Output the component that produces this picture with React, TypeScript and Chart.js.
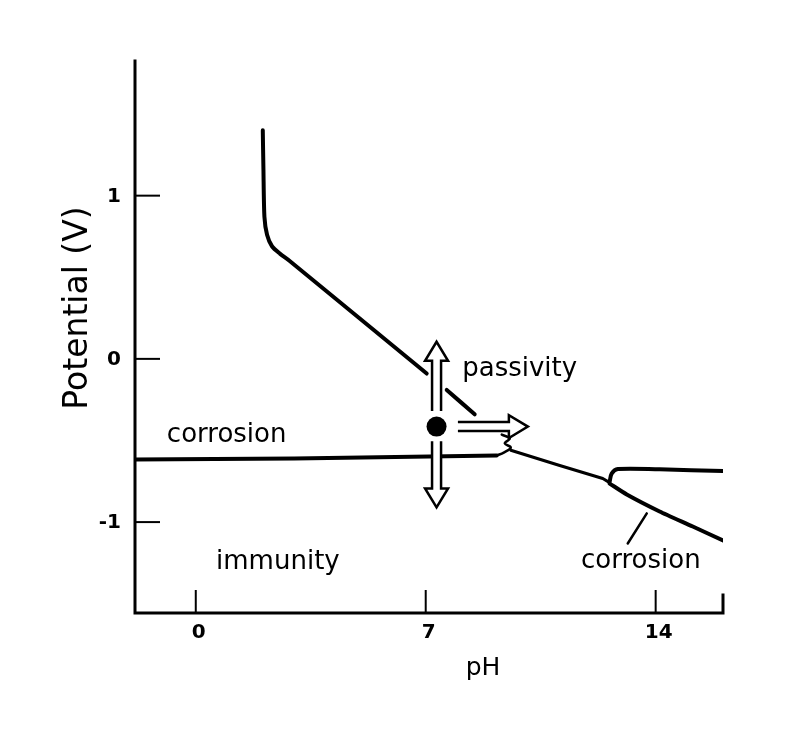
import React, { useEffect, useRef } from "react";
import { Chart, registerables } from "chart.js";

Chart.register(...registerables);

// Axis ranges and ticks
const X_MIN = -1.85;
const X_MAX = 16.05;
const Y_MIN = -1.557;
const Y_MAX = 1.825;
const X_TICKS = [0, 7, 14];
const Y_TICKS = [-1, 0, 1];
const X_TICK_LABELS = ["0", "7", "14"];
const Y_TICK_LABELS = ["-1", "0", "1"];
const X_TITLE = "pH";
const Y_TITLE = "Potential (V)";

// Curves [pH, V]; null = gap
const upperBoundary: ([number, number] | null)[] = [
  [2.04, 1.4], [2.06, 1.16], [2.09, 0.87], [2.17, 0.76], [2.32, 0.69],
  [2.56, 0.645], [2.86, 0.6], [7.03, -0.09], null, [7.64, -0.19], [8.49, -0.34],
];
const immunityBoundary: [number, number][] = [
  [-1.85, -0.617], [3.0, -0.61], [9.16, -0.592],
];
const junctionSquiggle: [number, number][] = [
  [9.163, -0.592], [9.376, -0.574], [9.589, -0.543], [9.406, -0.518], [9.559, -0.488], [9.315, -0.464],
];
const slopedBoundary: [number, number][] = [
  [9.59, -0.56], [11.08, -0.653], [12.39, -0.733], [12.6, -0.758],
];
const upperBranch: [number, number][] = [
  [12.6, -0.752], [12.66, -0.703], [12.85, -0.675], [14.12, -0.677], [16.05, -0.687],
];
const lowerBranch: [number, number][] = [
  [12.6, -0.764], [13.12, -0.831], [14.12, -0.935], [15.13, -1.027], [16.05, -1.113],
];
const leaderLine: [number, number][] = [
  [13.73, -0.947], [13.15, -1.131],
];

// Annotations
const dotPoint: [number, number] = [7.33, -0.415];
const arrowUp: [number, number][] = [[7.33, -0.32], [7.33, 0.105]];
const arrowDown: [number, number][] = [[7.33, -0.505], [7.33, -0.91]];
const arrowRight: [number, number][] = [[7.98, -0.415], [10.11, -0.415]];

const regionLabels = ["passivity", "corrosion", "immunity", "corrosion"];
const regionLabelPos: [number, number][] = [
  [9.86, -0.066], [0.94, -0.47], [2.5, -1.247], [13.55, -1.24],
];

const FONT = '"DejaVu Sans", sans-serif';

const toXY = (arr: ([number, number] | null)[]) =>
  arr.map((p, i) => (p ? { x: p[0], y: p[1] } : { x: (arr[i - 1] as [number, number])[0] + 0.01, y: null }));

function drawHollowArrow(ctx: CanvasRenderingContext2D, x0: number, y0: number, x1: number, y1: number) {
  const dx = x1 - x0, dy = y1 - y0;
  const len = Math.hypot(dx, dy);
  const ux = dx / len, uy = dy / len;
  const nx = -uy, ny = ux;
  const sw = 4.5, hw = 11.5, hl = 19;
  const bx = x1 - ux * hl, by = y1 - uy * hl;
  const pts = [
    [x0 + nx * sw, y0 + ny * sw],
    [bx + nx * sw, by + ny * sw],
    [bx + nx * hw, by + ny * hw],
    [x1, y1],
    [bx - nx * hw, by - ny * hw],
    [bx - nx * sw, by - ny * sw],
    [x0 - nx * sw, y0 - ny * sw],
  ];
  ctx.beginPath();
  pts.forEach((p, i) => (i ? ctx.lineTo(p[0], p[1]) : ctx.moveTo(p[0], p[1])));
  ctx.closePath();
  ctx.fillStyle = "#fff";
  ctx.fill();
  ctx.beginPath();
  pts.forEach((p, i) => (i ? ctx.lineTo(p[0], p[1]) : ctx.moveTo(p[0], p[1])));
  ctx.strokeStyle = "#000";
  ctx.lineWidth = 2.5;
  ctx.lineJoin = "miter";
  ctx.stroke();
}

const decorPlugin = {
  id: "decor",
  afterDatasetsDraw(chart: any) {
    const { ctx, chartArea: a, scales } = chart;
    const xs = scales.x, ys = scales.y;
    const px = (v: number) => xs.getPixelForValue(v);
    const py = (v: number) => ys.getPixelForValue(v);
    ctx.save();
    ctx.strokeStyle = "#000";
    ctx.fillStyle = "#000";
    // axes
    ctx.lineWidth = 3;
    ctx.lineCap = "square";
    ctx.beginPath();
    ctx.moveTo(a.left, a.top);
    ctx.lineTo(a.left, a.bottom);
    ctx.lineTo(a.right, a.bottom);
    ctx.lineTo(a.right, a.bottom - 18);
    ctx.stroke();
    // ticks (inward)
    ctx.lineWidth = 2;
    ctx.lineCap = "butt";
    Y_TICKS.forEach((v) => {
      ctx.beginPath();
      ctx.moveTo(a.left, py(v));
      ctx.lineTo(a.left + 25, py(v));
      ctx.stroke();
    });
    X_TICKS.forEach((v) => {
      ctx.beginPath();
      ctx.moveTo(px(v), a.bottom);
      ctx.lineTo(px(v), a.bottom - 23);
      ctx.stroke();
    });
    // tick labels
    ctx.font = `bold 20px ${FONT}`;
    ctx.textAlign = "center";
    ctx.textBaseline = "middle";
    X_TICKS.forEach((v, i) => ctx.fillText(X_TICK_LABELS[i], px(v) + 3, a.bottom + 20));
    ctx.textAlign = "right";
    Y_TICKS.forEach((v, i) => ctx.fillText(Y_TICK_LABELS[i], a.left - 14, py(v) + 1));
    // axis titles
    ctx.font = `25px ${FONT}`;
    ctx.textAlign = "center";
    ctx.fillText(X_TITLE, 483, 668);
    ctx.save();
    ctx.translate(78, 308);
    ctx.rotate(-Math.PI / 2);
    ctx.font = `33px ${FONT}`;
    ctx.fillText(Y_TITLE, 0, 0);
    ctx.restore();
    // arrows
    [arrowUp, arrowDown, arrowRight].forEach((ar) =>
      drawHollowArrow(ctx, px(ar[0][0]), py(ar[0][1]), px(ar[1][0]), py(ar[1][1]))
    );
    // dot
    ctx.fillStyle = "#000";
    ctx.beginPath();
    ctx.arc(px(dotPoint[0]), py(dotPoint[1]), 10, 0, Math.PI * 2);
    ctx.fill();
    // region labels
    ctx.font = `26px ${FONT}`;
    ctx.textAlign = "center";
    ctx.textBaseline = "middle";
    regionLabels.forEach((t, i) => ctx.fillText(t, px(regionLabelPos[i][0]), py(regionLabelPos[i][1])));
    ctx.restore();
  },
};

export default function App() {
  const ref = useRef<HTMLCanvasElement | null>(null);
  useEffect(() => {
    document.body.style.margin = "0";
    document.body.style.overflow = "hidden";
    const canvas = ref.current!;
    const line = (data: any[], width = 4, tension = 0) => ({
      data,
      borderColor: "#000",
      borderWidth: width,
      pointRadius: 0,
      tension,
      spanGaps: false,
      fill: false,
      borderCapStyle: "round",
      borderJoinStyle: "round",
    });
    const chart = new Chart(canvas, {
      type: "line",
      data: {
        datasets: [
          line(toXY(upperBoundary), 4, 0.25),
          line(toXY(immunityBoundary), 4),
          line(toXY(junctionSquiggle), 2.5, 0.4),
          line(toXY(slopedBoundary), 3),
          line(toXY(upperBranch), 4, 0.3),
          line(toXY(lowerBranch), 4, 0.2),
          line(toXY(leaderLine), 2.5),
        ] as any,
      },
      options: {
        animation: false,
        responsive: false,
        devicePixelRatio: 1,
        layout: { padding: { left: 135, top: 61, right: 77, bottom: 138 } },
        plugins: { legend: { display: false }, tooltip: { enabled: false } },
        scales: {
          x: { type: "linear", min: X_MIN, max: X_MAX, display: false },
          y: { type: "linear", min: Y_MIN, max: Y_MAX, display: false },
        },
      },
      plugins: [decorPlugin],
    });
    return () => chart.destroy();
  }, []);
  return <canvas ref={ref} width={800} height={751} style={{ display: "block" }} />;
}
